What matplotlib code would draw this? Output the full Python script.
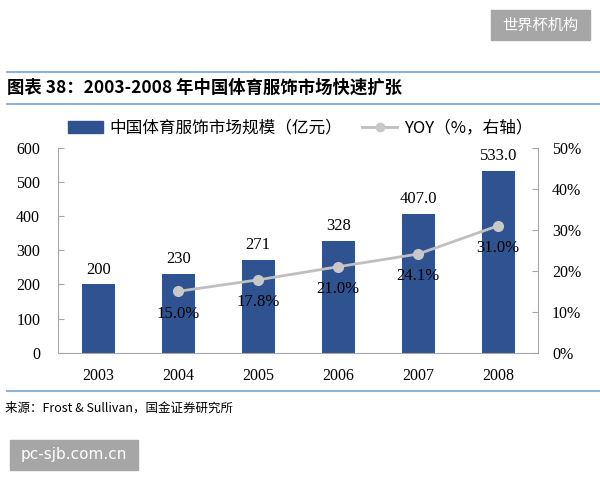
import matplotlib
matplotlib.use("Agg")
import matplotlib.pyplot as plt
from matplotlib.lines import Line2D
from matplotlib.patches import Rectangle

plt.rcParams["font.family"] = ["Liberation Serif", "Noto Sans CJK SC", "DejaVu Sans"]

years = ["2003", "2004", "2005", "2006", "2007", "2008"]
market_size = [200, 230, 271, 328, 407, 533]
size_labels = ["200", "230", "271", "328", "407.0", "533.0"]
yoy = [None, 15.0, 17.8, 21.0, 24.1, 31.0]
yoy_labels = ["", "15.0%", "17.8%", "21.0%", "24.1%", "31.0%"]

bar_color = "#2F5291"
line_color = "#BFBFBF"
cjk = ["Noto Sans CJK SC", "DejaVu Sans"]

fig = plt.figure(figsize=(6, 4.8), dpi=100)
ax = fig.add_axes([0.097, 0.265, 0.800, 0.427])
ax2 = ax.twinx()

x = list(range(len(years)))
ax.bar(x, market_size, width=0.41, color=bar_color, zorder=2)
for xi, v, lab in zip(x, market_size, size_labels):
    ax.annotate(lab, (xi, v), xytext=(0, 5), textcoords="offset points",
                ha="center", va="bottom", fontsize=12)

ax.set_xlim(-0.5, 5.5)
ax.set_ylim(0, 600)
ax.set_yticks(range(0, 601, 100))
ax.set_xticks(x)
ax.set_xticklabels(years)

yx = [xi for xi, v in zip(x, yoy) if v is not None]
yv = [v for v in yoy if v is not None]
ax2.plot(yx, yv, color=line_color, lw=2, marker="o", ms=7,
         markerfacecolor="#C8C8C8", markeredgecolor="#C8C8C8", zorder=3)
for xi, v, lab in zip(x, yoy, yoy_labels):
    if v is None:
        continue
    ax2.annotate(lab, (xi, v), xytext=(0, -16), textcoords="offset points",
                 ha="center", va="center", fontsize=12)
ax2.set_ylim(0, 50)
ax2.set_yticks(range(0, 51, 10))
ax2.set_yticklabels([f"{t}%" for t in range(0, 51, 10)])

for a in (ax, ax2):
    a.spines["top"].set_visible(False)
    for s in ("left", "right", "bottom"):
        a.spines[s].set_color("#A6A6A6")
    a.tick_params(labelsize=11.5, colors="black", length=4, direction="in")
    a.tick_params(axis="y", color="#A6A6A6")
ax.tick_params(axis="x", length=0, pad=11)
ax.tick_params(axis="y", pad=13)
ax2.tick_params(axis="y", pad=10)
ax.spines["right"].set_visible(False)
ax2.spines["left"].set_visible(False)
ax2.spines["bottom"].set_visible(False)

# legend row
handles = [Rectangle((0, 0), 1, 1, color=bar_color),
           Line2D([0], [0], color=line_color, lw=2, marker="o", ms=6,
                  markerfacecolor="#C8C8C8", markeredgecolor="#C8C8C8")]
fig.legend(handles, ["中国体育服饰市场规模（亿元）", "YOY（%，右轴）"],
           loc="center", bbox_to_anchor=(0.5, 0.733), ncol=2, frameon=False,
           prop={"family": cjk, "size": 12}, handlelength=2.1,
           handleheight=0.7, handletextpad=0.4, columnspacing=1.2)

# title block
fig.add_artist(Line2D([0.012, 1.0], [0.85, 0.85], color="#8DB4D6", lw=1.5))
fig.add_artist(Line2D([0.012, 1.0], [0.783, 0.783], color="#8DB4D6", lw=1.5))
fig.text(0.012, 0.817, "图表 38：2003-2008 年中国体育服饰市场快速扩张",
         family=cjk, fontsize=12.5, fontweight="heavy", style="italic",
         ha="left", va="center")

# source
fig.add_artist(Line2D([0.012, 1.0], [0.185, 0.185], color="#8DB4D6", lw=1.5))
fig.text(0.008, 0.15, "来源：Frost & Sullivan，国金证券研究所",
         family=cjk, fontsize=9, ha="left", va="center")

# watermarks
fig.patches.append(Rectangle((0.818, 0.917), 0.165, 0.063, transform=fig.transFigure,
                             color="#A6A6A6", zorder=0))
fig.text(0.9, 0.948, "世界杯机构", family=cjk, fontsize=11, color="white",
         ha="center", va="center")
fig.patches.append(Rectangle((0.017, 0.021), 0.213, 0.063, transform=fig.transFigure,
                             color="#A6A6A6", zorder=0))
fig.text(0.123, 0.053, "pc-sjb.com.cn", family=["DejaVu Sans"], fontsize=11,
         color="white", ha="center", va="center")

fig.savefig("out.png", dpi=100)
